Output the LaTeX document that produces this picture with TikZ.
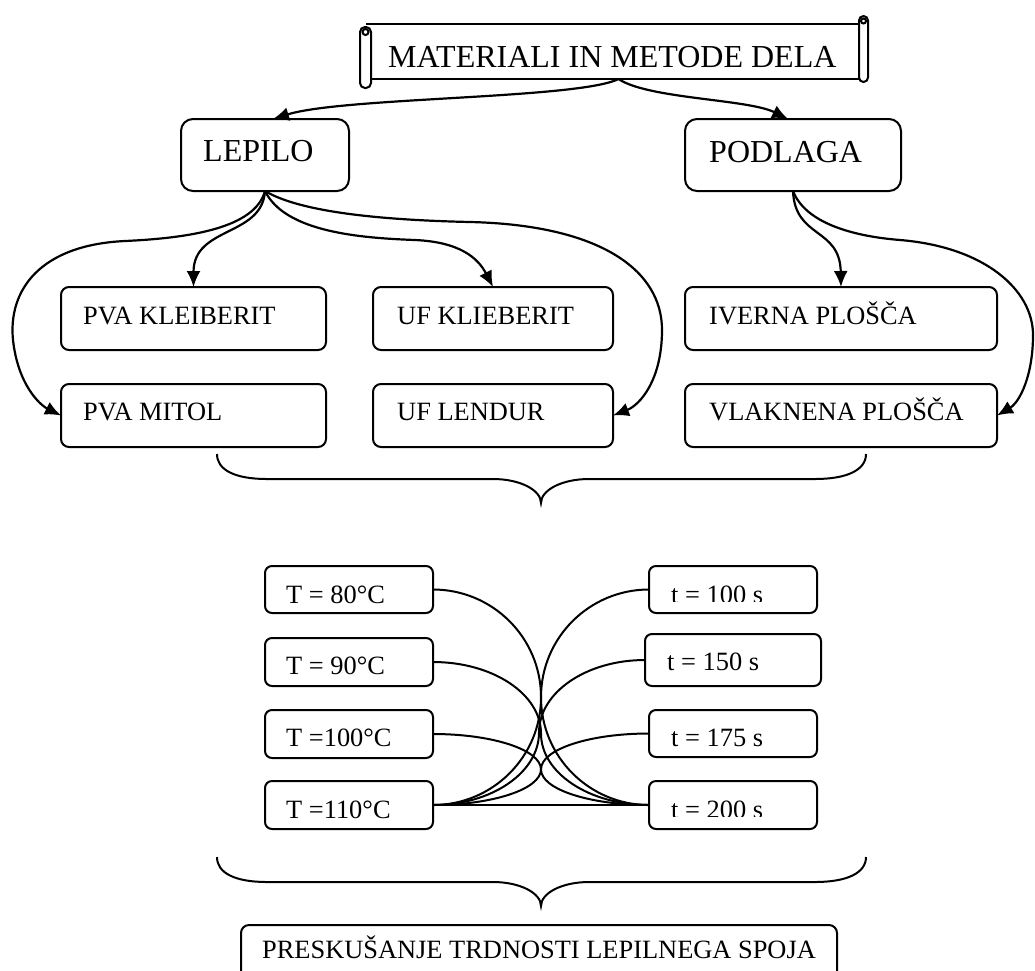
\documentclass[tikz,border=0pt]{standalone}
\usepackage{fontspec}
\setmainfont{Liberation Serif}
\usetikzlibrary{arrows.meta,calc}
\begin{document}
\begin{tikzpicture}[x=1pt,y=-1pt,
  box/.style={draw, line width=2pt, rounded corners=8pt, inner sep=0pt, outer sep=0pt},
  bigbox/.style={box, rounded corners=12pt},
  tbox/.style={box, rounded corners=7pt, minimum width=168pt, minimum height=47pt},
  bigtxt/.style={anchor=base west, inner sep=0pt, font=\fontsize{32}{38}\selectfont},
  smalltxt/.style={anchor=base west, inner sep=0pt, font=\fontsize{26.4}{32}\selectfont},
  arr/.style={line width=2.2pt, -{Latex[length=16pt,width=14pt]}},
  link/.style={line width=2pt},
  outline/.style={line width=2pt}]
\useasboundingbox (0,0) rectangle (1035,970);
\clip (0,0) rectangle (1035,970);

% ---- scroll title ----
\node[inner sep=0pt, outer sep=0pt, minimum width=495pt, minimum height=55pt] (scroll) at (618.5,51.5) {};
\draw[outline] (366,24) -- (859,24);
\draw[outline] (371,79) -- (859,79);
\draw[outline, rounded corners=4.5pt] (859,16) rectangle (868,82);
\draw[outline] (863.5,21) circle[radius=2.5];
\draw[outline, rounded corners=5pt] (360,27) rectangle (371,88);
\draw[outline] (365.5,32) circle[radius=3];
\node[bigtxt] (titletxt) at (388,67) {MATERIALI IN METODE DELA};

% ---- level 1 ----
\node[bigbox, minimum width=168pt, minimum height=72pt] (lepilo) at (265,155) {};
\node[bigtxt] (lepilotxt) at (203,161) {LEPILO};
\node[bigbox, minimum width=216pt, minimum height=72pt] (podlaga) at (793,155) {};
\node[bigtxt] (podlagatxt) at (709,162) {PODLAGA};

% ---- level 2 ----
\node[box, minimum width=265pt, minimum height=63pt] (pvak) at (193.5,318.5) {};
\node[smalltxt] (pvaktxt) at (83,324) {PVA KLEIBERIT};
\node[box, minimum width=265pt, minimum height=63pt] (pvam) at (193.5,415.5) {};
\node[smalltxt] (pvamtxt) at (83,420) {PVA MITOL};
\node[box, minimum width=240pt, minimum height=63pt] (ufk) at (493,318.5) {};
\node[smalltxt] (ufktxt) at (397,324) {UF KLIEBERIT};
\node[box, minimum width=240pt, minimum height=63pt] (ufl) at (493,415.5) {};
\node[smalltxt] (ufltxt) at (397,420) {UF LENDUR};
\node[box, minimum width=312pt, minimum height=63pt] (iverna) at (841,318.5) {};
\node[smalltxt] (ivernatxt) at (709,324) {IVERNA PLOŠČA};
\node[box, minimum width=312pt, minimum height=63pt] (vlak) at (841,415.5) {};
\node[smalltxt] (vlaktxt) at (709,420) {VLAKNENA PLOŠČA};

% ---- arrows ----
\draw[arr] (scroll.south) .. controls +(-40,20) and +(70,-22) .. ([xshift=8pt]lepilo.north);
\draw[arr] (scroll.south) .. controls +(30,20) and +(-40,-20) .. ([xshift=-5pt]podlaga.north);
\draw[arr] (lepilo.south) .. controls +(-3,46) and +(0,-61) .. (pvak.north);
\draw[arr] (lepilo.south) .. controls (255,228) and (190,238) .. (125,241)
  .. controls (40,245) and (8,290) .. (13,340)
  .. controls (18,385) and (40,405) .. (pvam.west);
\draw[arr] (lepilo.south) .. controls (285,232) and (360,238) .. (415,240)
  .. controls (460,242) and (478,258) .. (ufk.north);
\draw[arr] (lepilo.south) .. controls (300,212) and (380,220) .. (470,222)
  .. controls (600,225) and (662,270) .. (662,330)
  .. controls (662,380) and (640,405) .. (ufl.east);
\draw[arr] (podlaga.south) .. controls +(2,48) and +(-1,-60) .. (iverna.north);
\draw[arr] (podlaga.south) .. controls (805,222) and (850,236) .. (900,240)
  .. controls (985,247) and (1033,290) .. (1033,335)
  .. controls (1033,375) and (1020,402) .. (vlak.east);

% ---- brace 1 ----
\draw[outline] (217,454) .. controls (217,470) and (235,479) .. (267,479) -- (493,479)
  .. controls (520,479) and (541,490) .. (541,503)
  .. controls (541,490) and (562,479) .. (589,479) -- (815,479)
  .. controls (847,479) and (866,470) .. (866,454);

% ---- temperature / time ----
\node[tbox] (T80) at (349,589.5) {};
\node[smalltxt] (T80txt) at (286,603) {T = 80°C};
\node[tbox, minimum height=48pt] (T90) at (349,662) {};
\node[smalltxt] (T90txt) at (286,674) {T = 90°C};
\node[tbox, minimum height=48pt] (T100) at (349,734) {};
\node[smalltxt] (T100txt) at (286,746) {T =100°C};
\node[tbox, minimum height=48pt] (T110) at (349,805) {};
\node[smalltxt] (T110txt) at (286,818) {T =110°C};

\node[tbox] (t100) at (733,589.5) {};
\begin{scope}
\clip (640,560) rectangle (830,601.5);
\node[smalltxt] (t100txt) at (671,603.5) {t = 100 s};
\end{scope}
\node[tbox, minimum width=176pt, minimum height=52pt] (t150) at (733,660) {};
\node[smalltxt] (t150txt) at (667,670) {t = 150 s};
\node[tbox] (t175) at (733,733.5) {};
\node[smalltxt] (t175txt) at (671,746) {t = 175 s};
\node[tbox, minimum height=48pt] (t200) at (733,805) {};
\begin{scope}
\clip (640,775) rectangle (830,816.5);
\node[smalltxt] (t200txt) at (671,818.5) {t = 200 s};
\end{scope}

\draw[link] (T80.east) .. controls +(59.6,0) and +(0,-59.6) .. ($(T80.east)!0.5!(t200.west)$)
  .. controls +(0,59.6) and +(-59.6,0) .. (t200.west);
\draw[link] (T90.east) .. controls +(59.6,0) and +(0,-39.6) .. ($(T90.east)!0.5!(t200.west)$)
  .. controls +(0,39.6) and +(-59.6,0) .. (t200.west);
\draw[link] (T100.east) .. controls +(59.6,0) and +(0,-19.7) .. ($(T100.east)!0.5!(t200.west)$)
  .. controls +(0,19.7) and +(-59.6,0) .. (t200.west);
\draw[link] (T110.east) -- (t200.west);
\draw[link] (t100.west) .. controls +(-59.6,0) and +(0,-59.6) .. ($(t100.west)!0.5!(T110.east)$)
  .. controls +(0,59.6) and +(59.6,0) .. (T110.east);
\draw[link] (t150.west) .. controls +(-58.5,0) and +(0,-40.2) .. ($(t150.west)!0.5!(T110.east)$)
  .. controls +(0,40.2) and +(58.5,0) .. (T110.east);
\draw[link] (t175.west) .. controls +(-59.6,0) and +(0,-19.9) .. ($(t175.west)!0.5!(T110.east)$)
  .. controls +(0,19.9) and +(59.6,0) .. (T110.east);

% ---- brace 2 ----
\draw[outline] (217,857) .. controls (217,873) and (235,882) .. (267,882) -- (493,882)
  .. controls (520,882) and (541,893) .. (541,906)
  .. controls (541,893) and (562,882) .. (589,882) -- (815,882)
  .. controls (847,882) and (866,873) .. (866,857);

% ---- final box ----
\node[box, minimum width=596pt, minimum height=80pt] (pres) at (539,965) {};
\node[smalltxt] (prestxt) at (262,958) {PRESKUŠANJE TRDNOSTI LEPILNEGA SPOJA};
\end{tikzpicture}
\end{document}
